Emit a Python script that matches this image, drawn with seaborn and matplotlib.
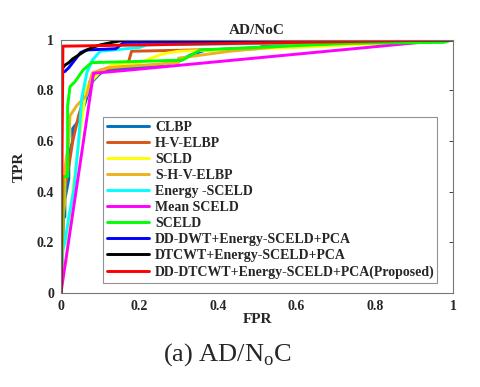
import matplotlib
matplotlib.use("Agg")
import matplotlib.pyplot as plt
import seaborn as sns
import numpy as np

# ROC curves (FPR, TPR)
labels = ['CLBP', 'H-V-ELBP', 'SCLD', 'S-H-V-ELBP', 'Energy -SCELD', 'Mean SCELD',
          'SCELD', 'DD-DWT+Energy-SCELD+PCA', 'DTCWT+Energy-SCELD+PCA',
          'DD-DTCWT+Energy-SCELD+PCA(Proposed)']
colors = ['#0072BD', '#D95319', '#FFFF00', '#EDB120', '#00FFFF', '#FF00FF',
          '#00FF00', '#0000FF', '#000000', '#FF0000']

clbp_fpr = [0, 0.005, 0.005, 0.01, 0.01, 0.02, 0.02, 0.03, 0.03, 0.045, 0.057, 0.07, 0.08, 0.095, 0.107, 0.18, 0.25, 0.30, 0.33, 0.37, 0.6, 1]
clbp_tpr = [0, 0.2, 0.3, 0.3, 0.37, 0.45, 0.55, 0.6, 0.65, 0.68, 0.73, 0.79, 0.835, 0.86, 0.875, 0.89, 0.9, 0.915, 0.94, 0.96, 0.975, 1]

hv_fpr = [0, 0.005, 0.006, 0.01, 0.02, 0.03, 0.045, 0.06, 0.08, 0.1, 0.17, 0.18, 0.5, 0.52, 1]
hv_tpr = [0, 0.25, 0.30, 0.42, 0.5, 0.6, 0.7, 0.78, 0.86, 0.88, 0.9, 0.955, 0.965, 0.98, 1]

scld_fpr = [0, 0.005, 0.013, 0.02, 0.03, 0.04, 0.05, 0.065, 0.08, 0.1, 0.13, 0.2, 0.26, 0.30, 0.6, 1]
scld_tpr = [0, 0.08, 0.12, 0.25, 0.4, 0.52, 0.65, 0.815, 0.84, 0.875, 0.9, 0.91, 0.945, 0.955, 0.97, 1]

shv_fpr = [0, 0.003, 0.005, 0.01, 0.01, 0.02, 0.023, 0.04, 0.065, 0.08, 0.12, 0.3, 0.3, 0.43, 0.6, 1]
shv_tpr = [0, 0.2, 0.3, 0.36, 0.49, 0.6, 0.70, 0.74, 0.78, 0.87, 0.89, 0.91, 0.928, 0.955, 0.98, 1]

en_fpr = [0, 0.005, 0.01, 0.02, 0.033, 0.045, 0.053, 0.066, 0.08, 0.1, 0.2, 0.22, 0.5, 1]
en_tpr = [0, 0.17, 0.2, 0.3, 0.41, 0.6, 0.77, 0.87, 0.92, 0.955, 0.97, 0.98, 0.985, 1]

mean_fpr = [0, 0.083, 0.17, 0.95, 1]
mean_tpr = [0, 0.868, 0.88, 0.995, 1]

sceld_fpr = [0, 0.005, 0.005, 0.017, 0.017, 0.023, 0.036, 0.056, 0.078, 0.2, 0.31, 0.355, 0.74, 0.975, 1]
sceld_tpr = [0, 0.3, 0.46, 0.46, 0.74, 0.815, 0.835, 0.88, 0.91, 0.915, 0.92, 0.96, 0.987, 0.99, 1]

dwt_fpr = [0, 0, 0.01, 0.02, 0.03, 0.04, 0.05, 0.065, 0.14, 0.16, 1]
dwt_tpr = [0, 0.87, 0.875, 0.89, 0.91, 0.93, 0.95, 0.96, 0.965, 0.99, 1]

dtcwt_fpr = [0, 0, 0.01, 0.02, 0.03, 0.045, 0.06, 0.08, 0.1, 0.13, 0.165, 1]
dtcwt_tpr = [0, 0.88, 0.90, 0.91, 0.925, 0.94, 0.955, 0.97, 0.98, 0.99, 1.0, 1]

prop_fpr = [0, 0.005, 1]
prop_tpr = [0, 0.975, 1]

all_fpr = [clbp_fpr, hv_fpr, scld_fpr, shv_fpr, en_fpr, mean_fpr, sceld_fpr, dwt_fpr, dtcwt_fpr, prop_fpr]
all_tpr = [clbp_tpr, hv_tpr, scld_tpr, shv_tpr, en_tpr, mean_tpr, sceld_tpr, dwt_tpr, dtcwt_tpr, prop_tpr]

sns.set_style("white")
plt.rcParams['font.family'] = ['Liberation Serif', 'DejaVu Serif']

fig = plt.figure(figsize=(4.8, 3.87), dpi=100)
ax = fig.add_axes([0.127, 0.243, 0.817, 0.654])

for f, t, lab, c in zip(all_fpr, all_tpr, labels, colors):
    sns.lineplot(x=f, y=t, ax=ax, color=c, label=lab, linewidth=2.1,
                 estimator=None, sort=False)

ax.set_xlim(0, 1)
ax.set_ylim(0, 1)
ax.set_xticks([0, 0.2, 0.4, 0.6, 0.8, 1])
ax.set_xticklabels(['0', '0.2', '0.4', '0.6', '0.8', '1'])
ax.set_yticks([0, 0.2, 0.4, 0.6, 0.8, 1])
ax.set_yticklabels(['0', '0.2', '0.4', '0.6', '0.8', '1'])
ax.tick_params(direction='in', top=True, right=True, length=3, width=0.6,
               labelsize=10, colors='#262626', pad=5)
for lab in ax.get_xticklabels() + ax.get_yticklabels():
    lab.set_fontweight('bold')
for s in ax.spines.values():
    s.set_color('#777777')
    s.set_linewidth(0.8)

ax.set_xlabel('FPR', fontsize=11, fontweight='bold', labelpad=0)
ax.set_ylabel('TPR', fontsize=11, fontweight='bold', labelpad=8)
ax.set_title('AD/NoC', fontsize=11, fontweight='bold', pad=4)

leg = ax.legend(loc='lower left', bbox_to_anchor=(0.107, 0.04, 0.852, 0.656),
                mode='expand', prop={'family': 'Liberation Serif', 'weight': 'bold', 'size': 10},
                frameon=True, fancybox=False, handlelength=3.0, handletextpad=0.45,
                labelspacing=0.22, borderpad=0.3, borderaxespad=0)
leg.get_frame().set_edgecolor('#777777')
leg.get_frame().set_linewidth(0.8)

fig.text(0.473, 0.083, '(a) AD/N$_\\mathregular{o}$C', ha='center', va='center', fontsize=19)

fig.savefig('out.png', dpi=100)
